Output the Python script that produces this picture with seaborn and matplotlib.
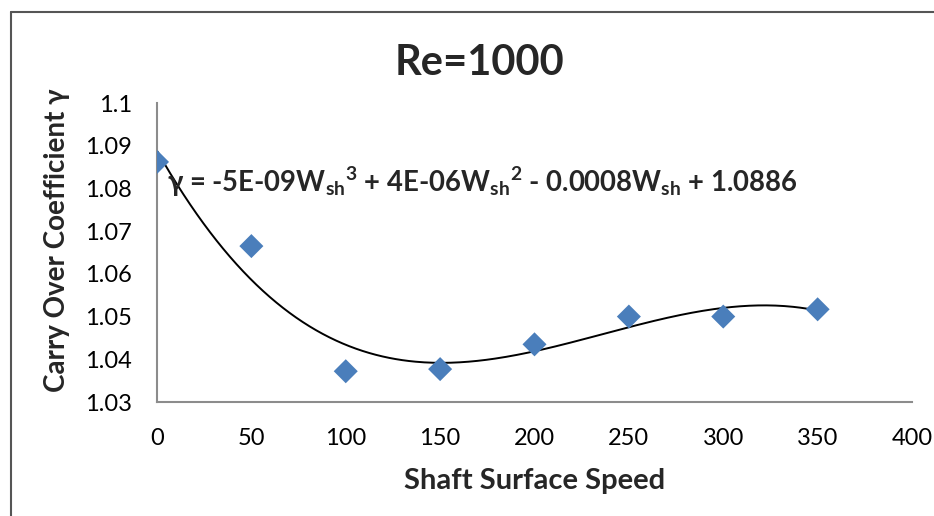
import numpy as np
import pandas as pd
import matplotlib
matplotlib.use("Agg")
import matplotlib.pyplot as plt
from matplotlib.lines import Line2D
import seaborn as sns

# Data
speed = [0, 50, 100, 150, 200, 250, 300, 350]
gamma = [1.0862, 1.0665, 1.0372, 1.0377, 1.0435, 1.0500, 1.0500, 1.0517]
x_ticks = [0, 50, 100, 150, 200, 250, 300, 350, 400]
y_ticks = [1.03, 1.04, 1.05, 1.06, 1.07, 1.08, 1.09, 1.1]
y_tick_labels = ["1.03", "1.04", "1.05", "1.06", "1.07", "1.08", "1.09", "1.1"]

sns.set_theme(style="white")
FONT = ["Lato", "DejaVu Sans"]
plt.rcParams["font.family"] = FONT
plt.rcParams["mathtext.fontset"] = "custom"
plt.rcParams["mathtext.rm"] = "Lato:bold"
plt.rcParams["mathtext.bf"] = "Lato:bold"
plt.rcParams["mathtext.it"] = "Lato:bold"

df = pd.DataFrame({"speed": speed, "gamma": gamma})

# polynomial trendline (order 3), as in the chart
coef = np.polyfit(df["speed"], df["gamma"], 3)
xs = np.linspace(min(speed), max(speed), 300)
trend = pd.DataFrame({"speed": xs, "gamma": np.polyval(coef, xs)})

fig = plt.figure(figsize=(9.34, 5.16), dpi=100)
ax = fig.add_axes([157 / 934, 1 - 402 / 516, (912 - 157) / 934, (402 - 103) / 516])

sns.lineplot(data=trend, x="speed", y="gamma", ax=ax, color="black", linewidth=1.4, zorder=2)
sns.scatterplot(data=df, x="speed", y="gamma", ax=ax, marker="D", s=150,
                color="#4A7EBB", edgecolor="none", zorder=3)

ax.set_xlim(0, 400)
ax.set_ylim(1.03, 1.1)
ax.set_xticks(x_ticks)
ax.set_yticks(y_ticks)
ax.set_yticklabels(y_tick_labels)
ax.tick_params(axis="both", labelsize=17, colors="black", length=0)
ax.tick_params(axis="x", pad=19)
ax.tick_params(axis="y", pad=18)
for sp in ["top", "right"]:
    ax.spines[sp].set_visible(False)
for sp in ["left", "bottom"]:
    ax.spines[sp].set_color("#8C8C8C")
    ax.spines[sp].set_linewidth(1.5)

ax.set_xlabel("Shaft Surface Speed", fontsize=21, fontweight="bold")
ax.set_ylabel("Carry Over Coefficient γ", fontsize=20, fontweight="bold", family=FONT)
ax.xaxis.set_label_coords(0.5, (402 - 468) / 299)
ax.yaxis.set_label_coords((70 - 157) / 755, 0.54)

fig.text(479 / 934, 1 - 75 / 516, "Re=1000", fontsize=30, fontweight="bold",
         ha="center", va="baseline")

eq = (r"γ = -5E-09W$_{\mathrm{sh}}$$^{\mathrm{3}}$ + 4E-06W$_{\mathrm{sh}}$$^{\mathrm{2}}$"
      r" - 0.0008W$_{\mathrm{sh}}$ + 1.0886")
fig.text(167 / 934, 1 - 192 / 516, eq, fontsize=19.8, fontweight="bold",
         ha="left", va="baseline", family=FONT)

# chart area border (top and left edges visible)
fig.add_artist(Line2D([11 / 934, 1.0], [1 - 12 / 516, 1 - 12 / 516], color="#555555", linewidth=1.5))
fig.add_artist(Line2D([11 / 934, 11 / 934], [0.0, 1 - 12 / 516], color="#555555", linewidth=1.5))

fig.savefig("out.png", dpi=100)
